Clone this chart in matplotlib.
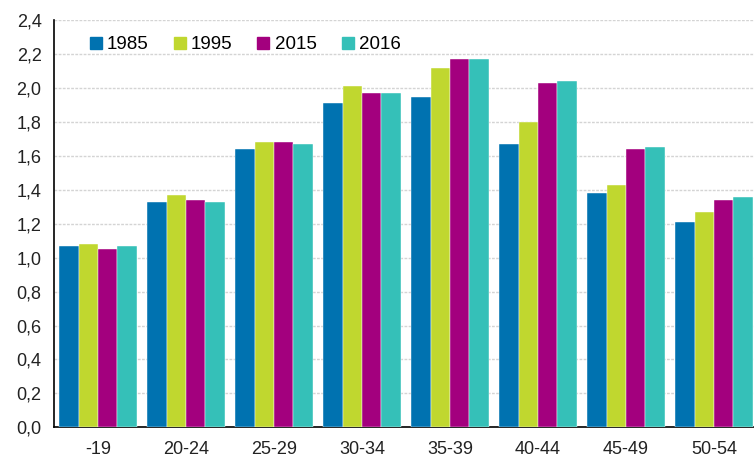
import numpy as np
import matplotlib
matplotlib.use('Agg')
import matplotlib.pyplot as plt
from matplotlib.lines import Line2D
from matplotlib.ticker import FuncFormatter

plt.rcParams['font.family'] = ['Liberation Sans', 'DejaVu Sans']

groups = ['-19', '20-24', '25-29', '30-34', '35-39', '40-44', '45-49', '50-54']
years = ['1985', '1995', '2015', '2016']
v1985 = [1.07, 1.33, 1.64, 1.91, 1.95, 1.67, 1.38, 1.21]
v1995 = [1.08, 1.37, 1.68, 2.01, 2.12, 1.80, 1.43, 1.27]
v2015 = [1.05, 1.34, 1.68, 1.97, 2.17, 2.03, 1.64, 1.34]
v2016 = [1.07, 1.33, 1.67, 1.97, 2.17, 2.04, 1.65, 1.36]
series = [v1985, v1995, v2015, v2016]
colors = ['#0072b0', '#c0d72f', '#a3007e', '#35c0b8']

fig = plt.figure(figsize=(7.54, 4.66), dpi=100)
ax = fig.add_axes([54/754, 38.7/466, 704/754, 407/466])

x = np.arange(len(groups))
w = 0.22
for i, vals in enumerate(series):
    ax.bar(x + (i - 1.5) * w, vals, width=w, color=colors[i],
           edgecolor='white', linewidth=0.3, zorder=3)

ax.set_xlim(-0.5, 7.5)
ax.set_ylim(0, 2.4)
ax.set_yticks(np.arange(0, 2.41, 0.2))
ax.yaxis.set_major_formatter(FuncFormatter(lambda v, p: f'{v:.1f}'.replace('.', ',')))
ax.set_xticks(x)
ax.set_xticklabels(groups)
ax.tick_params(axis='both', length=0, labelsize=13, colors='#222222')
ax.tick_params(axis='y', pad=9)
ax.tick_params(axis='x', pad=10)

ax.grid(axis='y', color='#d4d4d4', linestyle=(0, (2, 1)), linewidth=1, zorder=0)
for s in ['top', 'right']:
    ax.spines[s].set_visible(False)
ax.spines['left'].set_color('black')
ax.spines['bottom'].set_color('black')
ax.spines['left'].set_linewidth(1.2)
ax.spines['bottom'].set_linewidth(1.2)

handles = [Line2D([], [], marker='s', linestyle='', markersize=9, color=c) for c in colors]
ax.legend(handles, years, loc='upper left', bbox_to_anchor=(0.022, 1.002), ncol=4,
          frameon=False, fontsize=13.5, handletextpad=0.1, columnspacing=1.15,
          handlelength=1.0)

fig.savefig('out.png', dpi=100)
